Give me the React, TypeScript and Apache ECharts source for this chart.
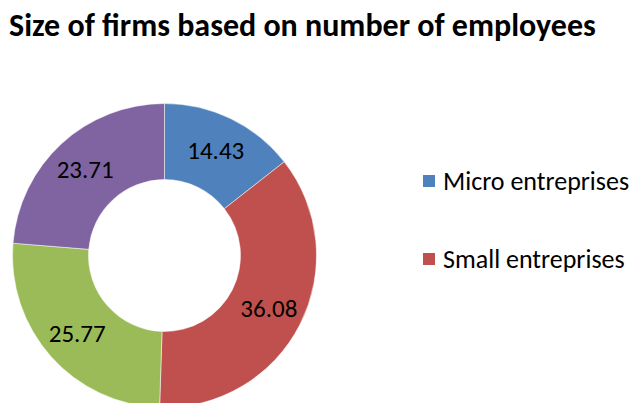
import React, { useEffect, useRef } from "react";
import * as echarts from "echarts";

const categories = ["Micro entreprises", "Small entreprises", "Medium entreprises", "Large entreprises"];
const values = [14.43, 36.08, 25.77, 23.71];
const colors = ["#4F81BD", "#C0504D", "#9BBB59", "#8064A2"];
const legendShown = ["Micro entreprises", "Small entreprises"];
const titleText = "Size of firms based on number of employees";

const FONT = "Carlito, 'Liberation Sans', Arial, sans-serif";

export default function App() {
  const ref = useRef<HTMLDivElement>(null);
  useEffect(() => {
    if (!ref.current) return;
    const chart = echarts.init(ref.current, undefined, { renderer: "svg" });
    chart.setOption({
      animation: false,
      backgroundColor: "#ffffff",
      title: {
        text: titleText,
        left: 9,
        top: 9,
        padding: 0,
        textStyle: { fontFamily: FONT, fontWeight: "bold", fontSize: 32, lineHeight: 32, color: "#000" },
      },
      legend: {
        orient: "vertical",
        left: 421,
        top: 168,
        padding: 0,
        itemGap: 52,
        itemWidth: 14,
        itemHeight: 14,
        icon: "rect",
        data: legendShown,
        textStyle: { fontFamily: FONT, fontSize: 26, lineHeight: 26, color: "#000", padding: [0, 0, 0, 2] },
      },
      series: [
        {
          type: "pie",
          center: [164.5, 255.5],
          radius: [76, 152],
          startAngle: 90,
          clockwise: true,
          avoidLabelOverlap: false,
          itemStyle: { borderColor: "#ffffff", borderWidth: 0.5 },
          label: {
            show: true,
            position: "inside",
            formatter: (p: any) => p.value.toFixed(2),
            fontFamily: FONT,
            fontSize: 25,
            color: "#000",
          },
          labelLine: { show: false },
          emphasis: { disabled: true },
          data: categories.map((name, i) => ({ name, value: values[i], itemStyle: { color: colors[i] } })),
        },
      ],
    });
    return () => chart.dispose();
  }, []);
  return <div ref={ref} style={{ position: "absolute", left: 0, top: 0, width: 635, height: 403 }} />;
}
